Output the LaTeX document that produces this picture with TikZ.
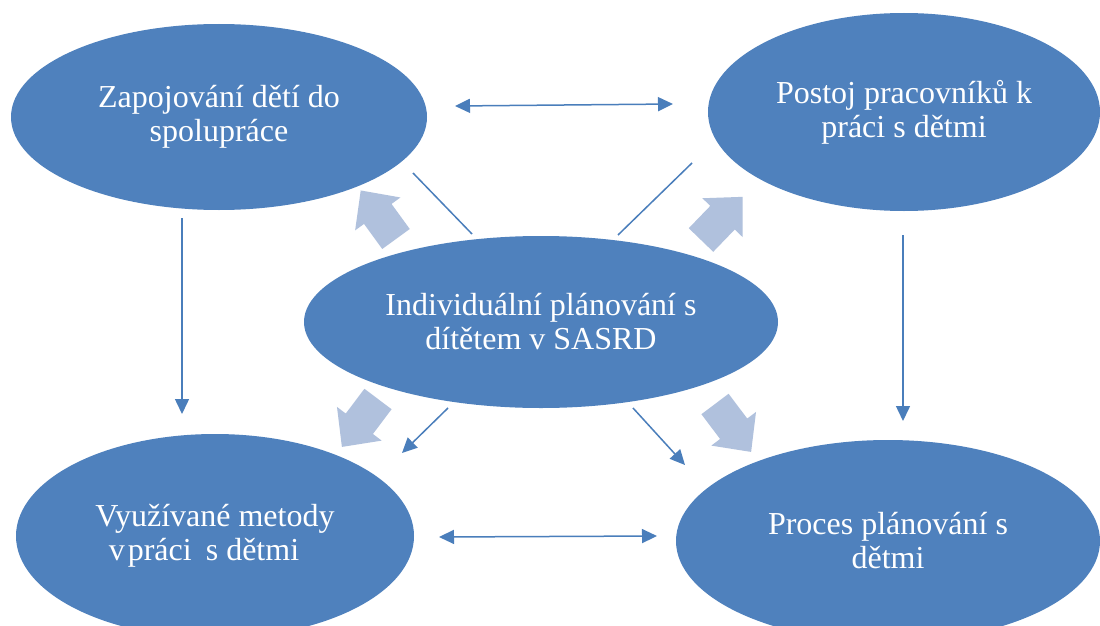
\documentclass[tikz,border=0pt]{standalone}
\usepackage{fontspec}
\setmainfont{Liberation Serif}
\usetikzlibrary{shapes.geometric,arrows.meta}
\definecolor{ellfill}{RGB}{79,129,189}
\definecolor{linecol}{RGB}{74,126,187}
\definecolor{blockfill}{RGB}{176,193,221}
\tikzset{
  ell/.style={ellipse, fill=ellfill, draw=none, inner sep=0pt, text=white, align=center,
    font=\fontsize{32}{34}\selectfont},
  conn/.style={draw=linecol, line width=1.5pt},
  arr/.style={conn, -{Triangle[length=15pt,width=14pt]}},
  darr/.style={conn, {Triangle[length=15pt,width=14pt]}-{Triangle[length=15pt,width=14pt]}},
  blockarr/.pic={\fill[blockfill] (0,-17) -- (31,-17) -- (31,-28) -- (60,0) -- (31,28) -- (31,17) -- (0,17) -- cycle;}
}
\begin{document}
\begin{tikzpicture}[x=1pt,y=-1pt]
\useasboundingbox (0,0) rectangle (1100,626);
\fill[white] (0,0) rectangle (1100,626);

\node[ell, minimum width=416pt, minimum height=186pt] (tl) at (219,117) {Zapojování dětí do\\spolupráce};
\node[ell, minimum width=392pt, minimum height=198pt] (tr) at (904,112) {Postoj pracovníků k\\práci s dětmi};
\node[ell, minimum width=474pt, minimum height=172pt] (c) at (541,322) {Individuální plánování s\\dítětem v SASRD};
\node[ell, minimum width=398pt, minimum height=204pt] (bl) at (215,536) {Využívané metody\\v\kern3pt práci\hspace{14pt}s dětmi\hspace*{22pt}};
\node[ell, minimum width=424pt, minimum height=202pt] (br) at (888,541) {Proces plánování s\\dětmi};

% block arrows
\pic[rotate=126] at (396,239) {blockarr};
\pic[rotate=46] at (701,240) {blockarr};
\pic[rotate=233] at (378,399) {blockarr};
\pic[rotate=-53] at (715,404) {blockarr};

% endpoints
\coordinate (t1) at (455,106);
\coordinate (t2) at (673,104);
\coordinate (b1) at (439,537);
\coordinate (b2) at (657,536);
\coordinate (v1a) at (182,218);
\coordinate (v1b) at (182,414);
\coordinate (v2a) at (903,235);
\coordinate (v2b) at (903,421);
\coordinate (ula) at (472,234);
\coordinate (ulb) at (413,173);
\coordinate (ura) at (618,235);
\coordinate (urb) at (692,163);
\coordinate (lla) at (448,408);
\coordinate (llb) at (402,453);
\coordinate (lra) at (633,408);
\coordinate (lrb) at (685,465);

\draw[darr] (t1) -- (t2);
\draw[darr] (b1) -- (b2);
\draw[arr] (v1a) -- (v1b);
\draw[arr] (v2a) -- (v2b);
\draw[conn] (ula) -- (ulb);
\draw[conn] (ura) -- (urb);
\draw[arr] (lla) -- (llb);
\draw[arr] (lra) -- (lrb);
\end{tikzpicture}
\end{document}
